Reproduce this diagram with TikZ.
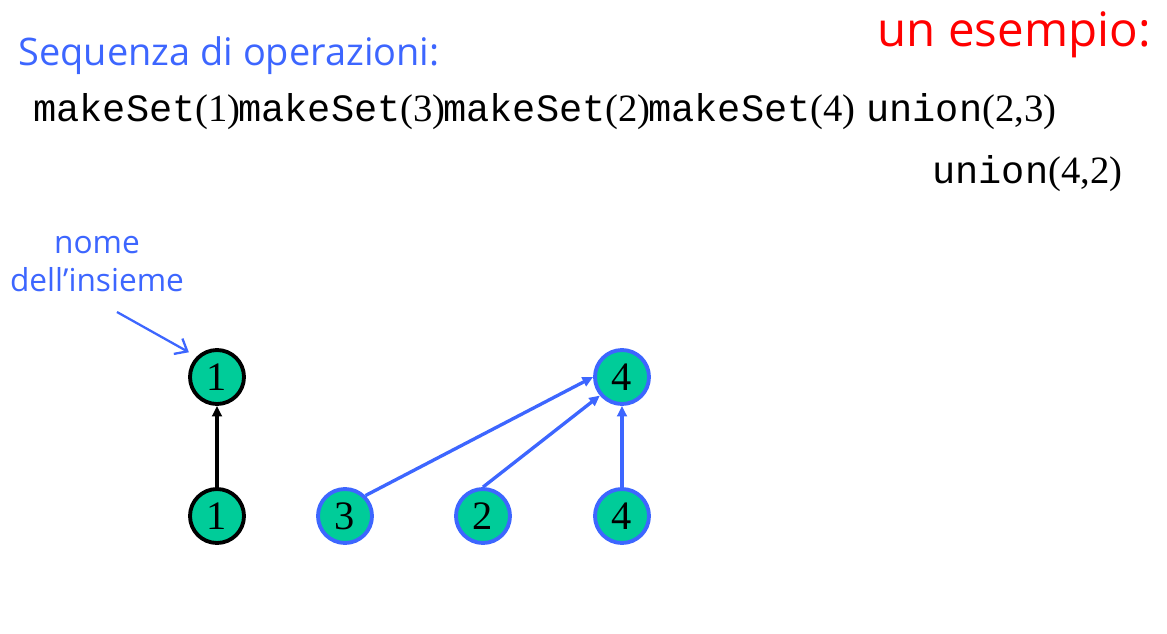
\documentclass[tikz,border=0pt]{standalone}
\usepackage{fontspec}
\setmainfont{Liberation Serif}
\setmonofont{Liberation Mono}
\newfontfamily\handfont{Open Sans}
\usetikzlibrary{arrows.meta,positioning}
\definecolor{setgreen}{RGB}{0,204,153}
\definecolor{opblue}{RGB}{61,102,255}
\definecolor{titlered}{RGB}{255,0,0}

\begin{document}
\begin{tikzpicture}[x=0.02cm,y=-0.02cm,
    elem/.style={circle,draw,fill=setgreen,line width=2.2pt,minimum size=1.08cm,inner sep=0pt,font=\fontsize{23}{27}\selectfont},
    op/.style={anchor=base west,inner sep=0pt,font=\fontsize{22}{26}\selectfont},
    note/.style={text=opblue,font=\handfont\fontsize{18}{21.5}\selectfont,align=center,inner sep=0pt},
    link/.style={line width=1.9pt,-{Triangle[length=6pt,width=5.5pt]}}]
    \useasboundingbox (0,0) rectangle (1167,633);

    % Title and list of operations
    \node[anchor=base east,inner sep=0pt,text=titlered,font=\handfont\fontsize{27}{32}\selectfont] (title) at (1151,46) {un esempio:};
    \node[anchor=base west,inner sep=0pt,text=opblue,font=\handfont\fontsize{21.6}{26}\selectfont] (seq) at (18,65) {Sequenza di operazioni:};

    \node[op] (op1) at (33,121) {\texttt{makeSet}(1)};
    \node[op] (op2) at (238,121) {\texttt{makeSet}(3)};
    \node[op] (op3) at (443,121) {\texttt{makeSet}(2)};
    \node[op] (op4) at (648,121) {\texttt{makeSet}(4)};
    \node[op] (op5) at (866,121) {\texttt{union}(2,3)};
    \node[op] (op6) at (932,183) {\texttt{union}(4,2)};

    % Label for the name of the set
    \node[note] (name) at (97,264) {nome\\dell’insieme};
    \coordinate (namearr) at (117,312);

    % First set: 1
    \node[elem] (n1a) at (217,377) {1};
    \node[elem] (n1b) at (217,516) {1};
    \draw[link] (n1b) -- (n1a);
    \draw[opblue,line width=1.3pt,shorten >=5pt,-{Straight Barb[length=6pt,width=10pt]}] (namearr) -- (n1a.north west);

    % Second set: 4, 3, 2
    \node[elem,draw=opblue] (n4a) at (622,377) {4};
    \node[elem,draw=opblue] (n3b) at (345,516) {3};
    \node[elem,draw=opblue] (n2b) at (483,516) {2};
    \node[elem,draw=opblue] (n4b) at (622,516) {4};
    \draw[link,opblue] (n3b.north east) -- (n4a.west);
    \draw[link,opblue] (n2b.north) -- (n4a.220);
    \draw[link,opblue] (n4b) -- (n4a);
\end{tikzpicture}
\end{document}
